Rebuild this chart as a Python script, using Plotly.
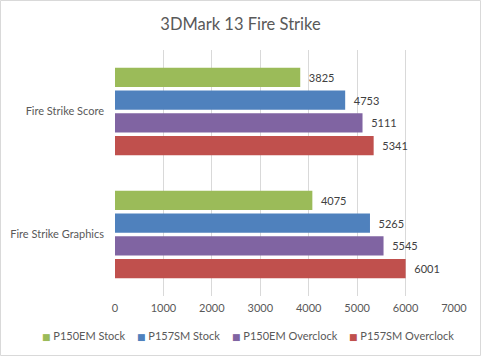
import plotly.graph_objects as go

categories = ["Fire Strike Score", "Fire Strike Graphics"]
series_names = ["P150EM Stock", "P157SM Stock", "P150EM Overclock", "P157SM Overclock"]
series_values = [
    [3825, 4075],
    [4753, 5265],
    [5111, 5545],
    [5341, 6001],
]
colors = ["#9BBB59", "#4F81BD", "#8064A2", "#C0504D"]
x_ticks = [0, 1000, 2000, 3000, 4000, 5000, 6000, 7000]

FONT = "Lato"
GRAY = "#595959"
DARK = "#404040"

fig = go.Figure()
for name, vals, col in zip(series_names, series_values, colors):
    fig.add_trace(go.Bar(
        y=categories, x=vals, name=name, orientation="h",
        marker=dict(color=col, line=dict(width=0)),
        text=vals, texttemplate="  %{text}", textposition="outside",
        textfont=dict(family=FONT, size=11, color=DARK),
        cliponaxis=False, showlegend=False,
    ))

W, H = 481, 356
L, R, T, B = 115, 27, 50, 60
pw, ph = W - L - R, H - T - B

# legend drawn as annotations (compact, like the original)
legend_px = [40, 135, 230, 347]
legend_py = 335
annotations = []
for name, col, px in zip(series_names, colors, legend_px):
    annotations.append(dict(
        xref="paper", yref="paper", x=(px - L) / pw, y=(T + ph - legend_py) / ph,
        xanchor="left", yanchor="middle", showarrow=False,
        text=f'<span style="color:{col};font-size:9px;font-family:DejaVu Sans">■</span> {name}',
        font=dict(family=FONT, size=11, color=GRAY),
    ))

fig.update_layout(
    width=W, height=H,
    margin=dict(l=L, r=R, t=T, b=B, pad=0, autoexpand=False),
    paper_bgcolor="white", plot_bgcolor="white",
    barmode="group", bargap=0.26, bargroupgap=0.16,
    title=dict(text="3DMark 13 Fire Strike", x=0.5, xref="container", xanchor="center",
               y=1 - 24 / H, yref="container", yanchor="middle",
               font=dict(family=FONT, size=16.5, color=GRAY)),
    font=dict(family=FONT, size=11, color=GRAY),
    showlegend=False,
    annotations=annotations,
    xaxis=dict(range=[0, 7000], tickvals=x_ticks, showgrid=True, gridcolor="#D9D9D9",
               gridwidth=1, zeroline=False, showline=False, ticks="", ticklabelstandoff=4,
               tickfont=dict(family=FONT, size=11, color=GRAY), fixedrange=True,
               automargin=False),
    yaxis=dict(autorange="reversed", showgrid=False, zeroline=False, showline=False,
               ticks="", ticklabelstandoff=10,
               tickfont=dict(family=FONT, size=11, color=GRAY), automargin=False),
    shapes=[dict(type="rect", xref="paper", yref="paper",
                 x0=(0.5 - L) / pw, x1=(W - 0.5 - L) / pw,
                 y0=(T + ph - (H - 0.5)) / ph, y1=(T + ph - 0.5) / ph,
                 line=dict(color="#D9D9D9", width=1), fillcolor="rgba(0,0,0,0)", layer="below")],
)

fig.write_html("out.html", config={"displayModeBar": False},
               post_script="document.body.style.margin='0';document.body.style.overflow='hidden';")
